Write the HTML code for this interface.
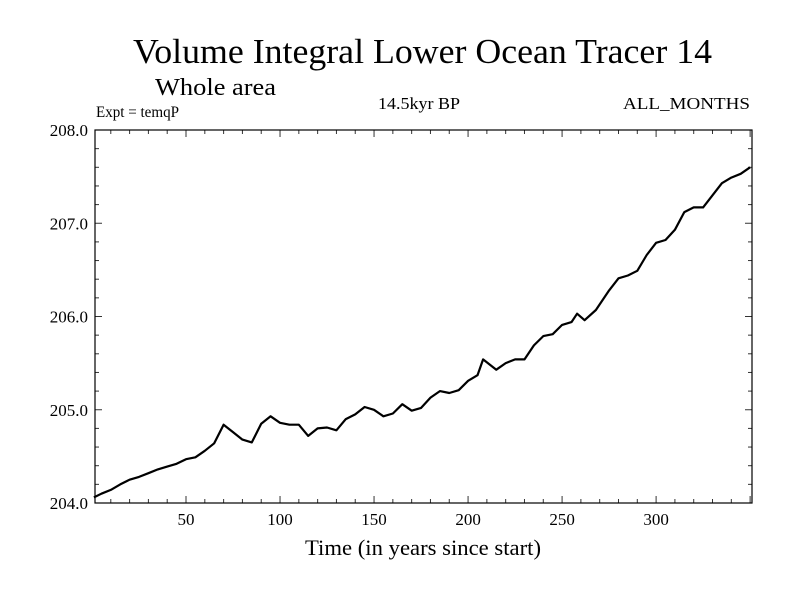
<!DOCTYPE html>
<html><head><meta charset="utf-8"><style>
body{margin:0;background:#fff;}
svg{display:block;font-family:"Liberation Serif",serif;}
</style></head><body>
<svg id="chart" width="800" height="600">
<rect x="0" y="0" width="800" height="600" fill="#fff"/>
<text x="133" y="63" font-size="35" textLength="579" lengthAdjust="spacingAndGlyphs">Volume Integral Lower Ocean Tracer 14</text>
<text x="155" y="95" font-size="24" textLength="121" lengthAdjust="spacingAndGlyphs">Whole area</text>
<text x="96" y="117" font-size="16" textLength="83" lengthAdjust="spacingAndGlyphs">Expt = temqP</text>
<text x="378" y="109" font-size="17" textLength="82" lengthAdjust="spacingAndGlyphs">14.5kyr BP</text>
<text x="623" y="109" font-size="17" textLength="127" lengthAdjust="spacingAndGlyphs">ALL_MONTHS</text>
<text x="305" y="555" font-size="22" textLength="236" lengthAdjust="spacingAndGlyphs">Time (in years since start)</text>
<g id="axes"></g>
<g id="plot"></g>
<rect x="95" y="130" width="657" height="373" fill="none" stroke="#000" stroke-width="1.2"/>
</svg>
<script>
const years=[1,5,10,15,20,25,30,35,40,45,50,55,60,65,70,75,80,85,90,95,100,105,110,115,120,125,130,135,140,145,150,155,160,165,170,175,180,185,190,195,200,205,208,215,220,225,230,235,240,245,250,255,258,262,268,275,280,285,290,295,300,305,310,315,320,325,330,335,340,345,350];
const values=[204.06,204.10,204.14,204.20,204.25,204.28,204.32,204.36,204.39,204.42,204.47,204.49,204.56,204.64,204.84,204.76,204.68,204.65,204.85,204.93,204.86,204.84,204.84,204.72,204.80,204.81,204.78,204.90,204.95,205.03,205.00,204.93,204.96,205.06,204.99,205.02,205.13,205.20,205.18,205.21,205.31,205.37,205.54,205.43,205.50,205.54,205.54,205.69,205.79,205.81,205.91,205.94,206.03,205.96,206.07,206.28,206.41,206.44,206.49,206.66,206.79,206.82,206.93,207.12,207.17,207.17,207.30,207.43,207.49,207.53,207.60];
const xTicks=[50,100,150,200,250,300];
const yTicks=[204,205,206,207,208];
const yTickLabels=["204.0","205.0","206.0","207.0","208.0"];
const NS="http://www.w3.org/2000/svg";
const L=95,R=752,T=130,B=503,X0=1.6,X1=351,Y0=204,Y1=208;
function sx(v){return L+(v-X0)/(X1-X0)*(R-L);}
function sy(v){return B-(v-Y0)/(Y1-Y0)*(B-T);}
const axes=document.getElementById('axes'),plot=document.getElementById('plot');
function mk(tag,attrs,parent){const e=document.createElementNS(NS,tag);for(const k in attrs)e.setAttribute(k,attrs[k]);parent.appendChild(e);return e;}
for(let v=10;v<=350;v+=10){const x=sx(v);const major=v%50===0;
 const t=mk('line',{x1:x,x2:x,y1:B,y2:B-(major?7:4),stroke:'#333'},axes);
 
 
 const t2=mk('line',{x1:x,x2:x,y1:T,y2:T+(major?7:4),stroke:'#333'},axes);
 
 }
xTicks.forEach(v=>{const t=mk('text',{x:sx(v),y:B+22,'font-size':17,'text-anchor':'middle'},axes);t.textContent=v;
 
 });
for(let i=0;i<=20;i++){const v=Y0+i*0.2;const y=sy(v);const major=i%5===0;
 const t=mk('line',{x1:L,x2:L+(major?7:4),y1:y,y2:y,stroke:'#333'},axes);
 
 
 const t2=mk('line',{x1:R,x2:R-(major?7:4),y1:y,y2:y,stroke:'#333'},axes);
 
 }
yTicks.forEach((v,i)=>{const t=mk('text',{x:L-7,y:sy(v)+6,'font-size':17,'text-anchor':'end'},axes);t.textContent=yTickLabels[i];
 
 });
const d=years.map((yr,i)=>(i?'L':'M')+sx(yr).toFixed(1)+','+sy(values[i]).toFixed(1)).join(' ');
const p=mk('path',{d:d,fill:'none',stroke:'#000','stroke-width':2.2,'stroke-linejoin':'round'},plot);


</script>
</body></html>
